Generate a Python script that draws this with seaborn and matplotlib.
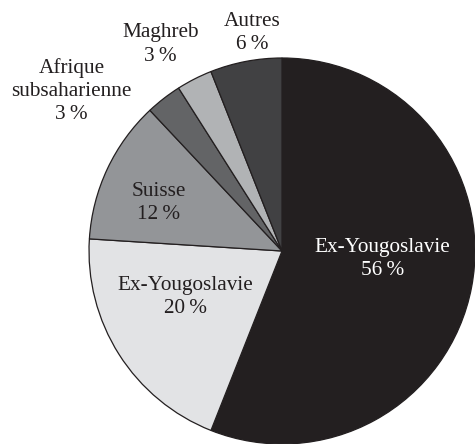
import matplotlib
matplotlib.use("Agg")
import matplotlib.pyplot as plt
import seaborn as sns

# Origines (ordre horaire depuis le haut)
labels = ["Ex-Yougoslavie", "Ex-Yougoslavie", "Suisse",
          "Afrique\nsubsaharienne", "Maghreb", "Autres"]
shares = [56, 20, 12, 3, 3, 6]
colours = ["#231f20", "#e2e3e5", "#939598", "#636466", "#b1b3b5", "#414143"]

# label anchor positions, in pie-radius units
label_pos = [(0.52, -0.04), (-0.50, -0.24), (-0.64, 0.25),
             (-1.09, 0.83), (-0.63, 1.07), (-0.155, 1.13)]
label_colour = ["white", "#231f20", "#231f20", "#231f20", "#231f20", "#231f20"]

sns.set_style("white")
plt.rcParams["font.family"] = ["Liberation Serif", "DejaVu Serif"]

fig = plt.figure(figsize=(4.75, 4.44), dpi=100)
ax = fig.add_axes([0.1874, 0.0, 0.8126, 0.8694])

ax.pie(shares, colors=colours, startangle=90, counterclock=False,
       radius=1.0, wedgeprops=dict(edgecolor="#231f20", linewidth=0.9))

for lab, val, (x, y), col in zip(labels, shares, label_pos, label_colour):
    ax.text(x, y, f"{lab}\n{val}\u2009%", ha="center", va="center",
            fontsize=15.3, color=col, linespacing=1.3, clip_on=False)

ax.set_xlim(-1, 1)
ax.set_ylim(-1, 1)
ax.set_aspect("equal")
ax.axis("off")

fig.savefig("out.png", dpi=100)
